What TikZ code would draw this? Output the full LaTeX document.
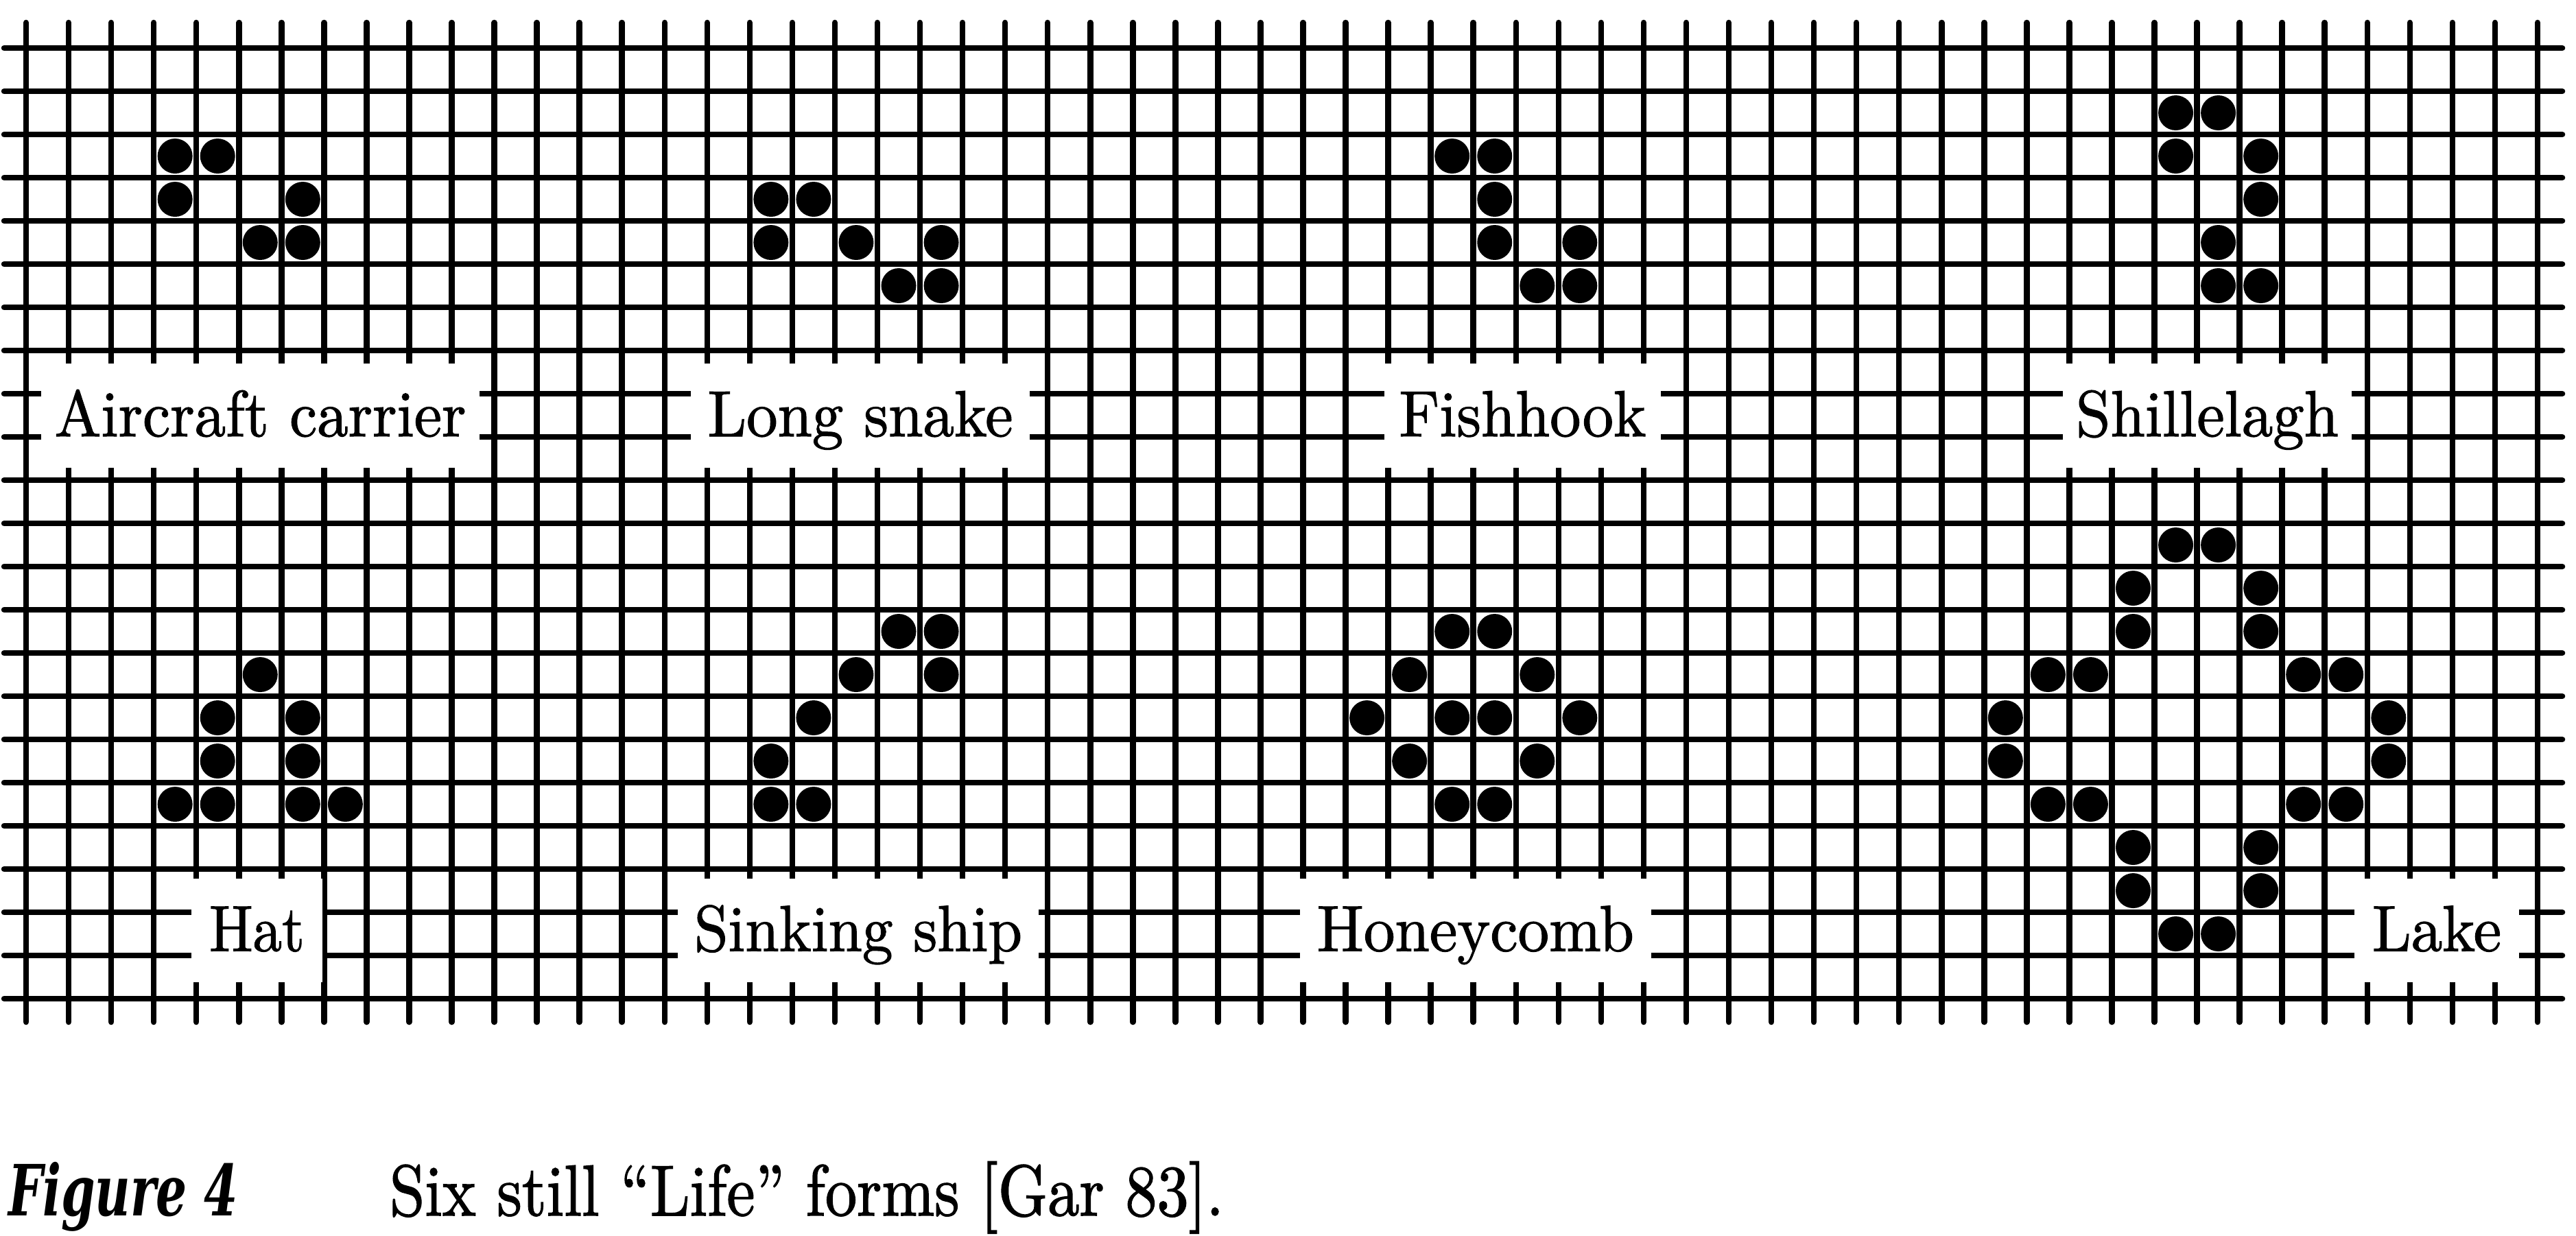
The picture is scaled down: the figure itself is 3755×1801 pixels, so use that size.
\documentclass[tikz,border=0pt]{standalone}
\usepackage{graphicx}
\usepackage{fontspec}
\newfontfamily\lblfont[FakeBold=1.3]{lmroman10-regular.otf}
\newfontfamily\capfont[FakeBold=1.5]{lmroman10-regular.otf}
\newfontfamily\figfont{DejaVu Serif}
\tikzset{
  gridline/.style={line width=0.85pt, line cap=round, black},
  lblbox/.style={fill=white, inner sep=0pt, outer sep=0pt, text height=6pt, text depth=0pt, anchor=center, minimum height=15.15pt},
  capt/.style={inner sep=0pt, outer sep=0pt, anchor=base west},
  dot/.style={fill=black},
}
\newcommand\lbltext[2]{\resizebox{#1}{\height}{\lblfont\fontsize{9.5}{11}\selectfont #2}}
\begin{document}
\begin{tikzpicture}[x=0.1pt, y=-0.1pt]
\useasboundingbox (0,0) rectangle (3755,1801);
\fill[white] (0,0) rectangle (3755,1801);
% grid
\foreach \i in {0,...,59} \draw[gridline] ({38+62.05*\i},33) -- ({38+62.05*\i},1490);
\foreach \j in {0,...,22} \draw[gridline] (6,{70+63*\j}) -- (3735,{70+63*\j});
% labels (white boxes)
\node[lblbox, minimum width=63.9pt] (ac) at (379.5,606) {\lbltext{60pt}{Aircraft carrier}};
\node[lblbox, minimum width=49.4pt] (ls) at (1254,606) {\lbltext{44.5pt}{Long snake}};
\node[lblbox, minimum width=40.3pt] (fh) at (2219.5,606) {\lbltext{36pt}{Fishhook}};
\node[lblbox, minimum width=42.1pt] (sh) at (3217.5,606) {\lbltext{38.3pt}{Shillelagh}};
\node[lblbox, minimum width=19.1pt] (hat) at (374.5,1356.5) {\lbltext{13.9pt}{Hat}};
\node[lblbox, minimum width=52.6pt] (ss) at (1251,1356.5) {\lbltext{47.8pt}{Sinking ship}};
\node[lblbox, minimum width=51.25pt] (hc) at (2150.75,1356.5) {\lbltext{46.2pt}{Honeycomb}};
\node[lblbox, minimum width=24pt] (lake) at (3552,1356.5) {\lbltext{18.8pt}{Lake}};
% cells
\foreach \c/\r in {
  3/2,4/2,3/3,6/3,5/4,6/4,
  17/3,18/3,17/4,19/4,21/4,20/5,21/5,
  33/2,34/2,34/3,34/4,36/4,35/5,36/5,
  50/1,51/1,50/2,52/2,52/3,51/4,51/5,52/5,
  5/14,4/15,6/15,4/16,6/16,3/17,4/17,6/17,7/17,
  20/13,21/13,19/14,21/14,18/15,17/16,17/17,18/17,
  33/13,34/13,32/14,35/14,31/15,33/15,34/15,36/15,32/16,35/16,33/17,34/17,
  50/11,51/11,49/12,52/12,49/13,52/13,47/14,48/14,53/14,54/14,46/15,55/15,
  46/16,55/16,47/17,48/17,53/17,54/17,49/18,52/18,49/19,52/19,50/20,51/20}
  \fill[dot] ({38+62.05*(\c+0.5)},{70+63*(\r+0.5)}) circle[radius=2.55pt];
% caption
\node[capt] (fig) at (12,1772) {\resizebox{33.5pt}{\height}{\figfont\fontsize{10.3}{13}\selectfont\bfseries\itshape Figure 4}};
\node[capt] (cap) at (568,1772) {\resizebox{121.6pt}{\height}{\capfont\fontsize{10.5}{13}\selectfont Six still “Life” forms [Gar 83].}};
\end{tikzpicture}
\end{document}
